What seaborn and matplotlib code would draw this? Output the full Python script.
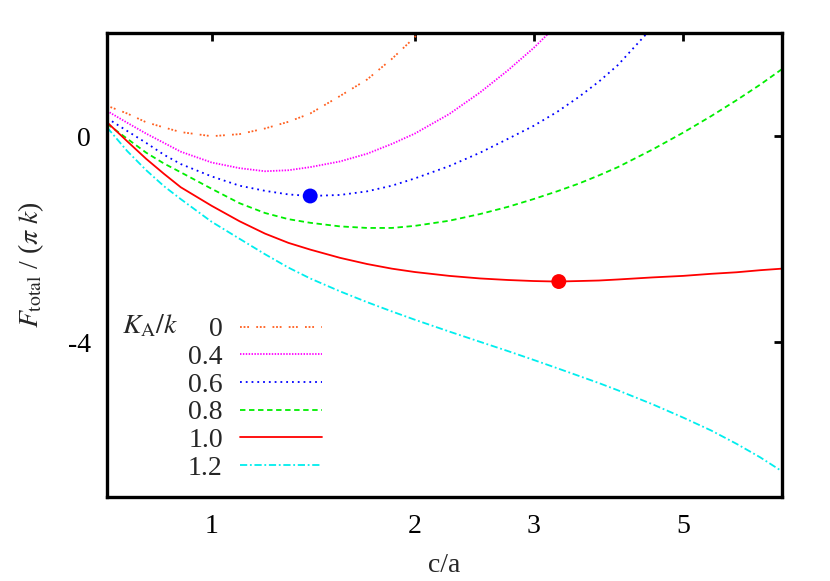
import numpy as np
import pandas as pd
import seaborn as sns
import matplotlib
matplotlib.use("Agg")
import matplotlib.pyplot as plt
from matplotlib.ticker import FixedLocator, NullLocator, FixedFormatter

# data (c/a on a log axis, F_total/(pi k))
K_labels = ["0", "0.4", "0.6", "0.8", "1.0", "1.2"]

x_K00 = [0.7, 0.75, 0.8, 0.85, 0.9, 1.0, 1.1, 1.2, 1.3, 1.4, 1.55, 1.7, 1.85, 2.0, 2.02]
y_K00 = [0.59, 0.44, 0.27, 0.17, 0.08, 0.0, 0.04, 0.15, 0.28, 0.44, 0.78, 1.10, 1.50, 1.92, 2.0]

x_K04 = [0.7, 0.75, 0.8, 0.85, 0.9, 1.0, 1.1, 1.2, 1.3, 1.4, 1.55, 1.7, 1.85, 2.0, 2.25, 2.5, 2.75, 3.0, 3.16]
y_K04 = [0.49, 0.26, 0.05, -0.13, -0.30, -0.51, -0.62, -0.68, -0.66, -0.60, -0.49, -0.34, -0.15, 0.05,
         0.43, 0.85, 1.28, 1.71, 2.0]

x_K06 = [0.7, 0.75, 0.8, 0.85, 0.9, 1.0, 1.1, 1.2, 1.3, 1.4, 1.55, 1.7, 1.85, 2.0, 2.25, 2.5, 2.75, 3.0,
         3.25, 3.5, 3.75, 4.0, 4.42]
y_K06 = [0.35, 0.10, -0.13, -0.36, -0.54, -0.78, -0.96, -1.06, -1.13, -1.16, -1.14, -1.07, -0.96, -0.82,
         -0.58, -0.32, -0.05, 0.20, 0.47, 0.76, 1.06, 1.38, 2.0]

x_long = [0.7, 0.75, 0.8, 0.85, 0.9, 1.0, 1.1, 1.2, 1.3, 1.4, 1.55, 1.7, 1.85, 2.0, 2.25, 2.5, 2.75, 3.0,
          3.25, 3.5, 3.75, 4.0, 4.5, 5.0, 5.5, 6.0, 6.5, 7.0]
y_K08 = [0.24, -0.05, -0.32, -0.53, -0.70, -1.02, -1.30, -1.49, -1.61, -1.68, -1.75, -1.78, -1.78, -1.74,
         -1.64, -1.51, -1.37, -1.22, -1.07, -0.92, -0.76, -0.60, -0.26, 0.07, 0.39, 0.70, 1.00, 1.30]
y_K10 = [0.27, -0.10, -0.44, -0.73, -0.99, -1.35, -1.65, -1.89, -2.07, -2.20, -2.36, -2.48, -2.57, -2.635,
         -2.71, -2.76, -2.79, -2.81, -2.82, -2.81, -2.80, -2.78, -2.74, -2.71, -2.67, -2.64, -2.60, -2.57]
y_K12 = [0.17, -0.29, -0.66, -0.97, -1.22, -1.66, -1.99, -2.29, -2.55, -2.76, -3.01, -3.22, -3.40, -3.56,
         -3.79, -3.99, -4.17, -4.34, -4.50, -4.65, -4.79, -4.93, -5.20, -5.46, -5.71, -5.97, -6.23, -6.50]

# minima marked with dots
min_x = [1.40, 3.27]
min_y = [-1.16, -2.82]
min_colors = ["#0000ff", "#ff0000"]

series = [
    (x_K00, y_K00, "#ff6020", (0, (1, 1, 1, 1, 1, 4))),
    (x_K04, y_K04, "#ff00ff", (0, (0.8, 0.8))),
    (x_K06, y_K06, "#0000ff", (0, (1, 2.2))),
    (x_long, y_K08, "#00ee00", (0, (3, 2))),
    (x_long, y_K10, "#ff0000", "-"),
    (x_long, y_K12, "#00eeee", (0, (4, 1.5, 1, 1.5))),
]

sns.set_style("white")
plt.rcParams["font.family"] = ["Liberation Serif", "DejaVu Serif"]
plt.rcParams["mathtext.fontset"] = "stix"
plt.rcParams["axes.unicode_minus"] = False

FS = 20

fig = plt.figure(figsize=(8.3, 5.81), dpi=100)
ax = fig.add_axes([0.129, 0.1446, 0.813, 0.7984])

for (xs, ys, col, ls), lab in zip(series, K_labels):
    df = pd.DataFrame({"x": xs, "y": ys})
    sns.lineplot(data=df, x="x", y="y", ax=ax, color=col, linestyle=ls,
                 linewidth=1.3, label=lab, sort=True, estimator=None)

sns.scatterplot(x=min_x, y=min_y, hue=[0, 1], palette=min_colors, s=115,
                edgecolor="none", legend=False, ax=ax, zorder=5)

ax.set_xscale("log")
ax.set_xlim(0.7, 7.0)
ax.set_ylim(-7, 2)
ax.xaxis.set_major_locator(FixedLocator([1, 2, 3, 5]))
ax.xaxis.set_major_formatter(FixedFormatter(["1", "2", "3", "5"]))
ax.xaxis.set_minor_locator(NullLocator())
ax.yaxis.set_major_locator(FixedLocator([-4, 0]))
ax.yaxis.set_minor_locator(NullLocator())

ax.tick_params(direction="in", length=6, width=2, labelsize=FS,
               top=True, right=True, colors="black")
ax.tick_params(axis="x", pad=12)
ax.tick_params(axis="y", pad=11.5)
for sp in ax.spines.values():
    sp.set_linewidth(2.4)
    sp.set_color("black")

ax.set_xlabel("c/a", fontsize=FS, labelpad=10)
ax.set_ylabel(r"$F_{\rm total}$ / ($\pi$ $k$)", fontsize=FS, labelpad=16)

leg = ax.legend(loc="upper right", bbox_to_anchor=(0.318, 0.388), frameon=False,
                markerfirst=False, fontsize=FS, handlelength=2.94, handletextpad=0.62,
                labelspacing=0.08, borderpad=0, borderaxespad=0)
ax.text(0.022, 0.353, r"$K_{\rm A}/k$", transform=ax.transAxes, fontsize=FS,
        ha="left", va="baseline")

fig.savefig("out.png", dpi=100)
